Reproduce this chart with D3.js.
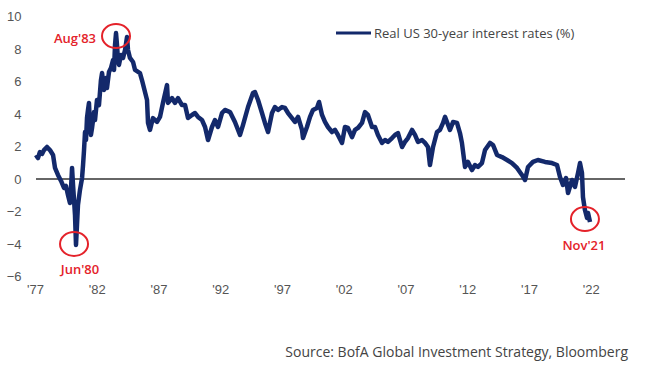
<!DOCTYPE html>
<html>
<head>
<meta charset="utf-8">
<script src="https://cdn.jsdelivr.net/npm/d3@7"></script>
<style>
  body { margin: 0; background: #fff; }
  svg { display: block; font-family: "Open Sans", sans-serif; }
  .axis text { fill: #555; font-size: 13px; }
  .axis path, .axis line { display: none; }
</style>
</head>
<body>
<script>
// Real US 30-year interest rates (%) (decimal years)
const dates = [
  1977.08, 1977.24, 1977.40, 1977.57, 1977.73, 1977.97, 1978.21, 1978.46, 1978.62, 1978.86,
  1979.11, 1979.35, 1979.51, 1979.67, 1979.83, 1979.91, 1980.00, 1980.08, 1980.16, 1980.24,
  1980.32, 1980.40, 1980.48, 1980.64, 1980.81, 1980.89, 1980.97, 1981.05, 1981.13, 1981.21,
  1981.29, 1981.37, 1981.45, 1981.53, 1981.62, 1981.78, 1981.86, 1982.02, 1982.18, 1982.34,
  1982.43, 1982.59, 1982.75, 1982.83, 1982.99, 1983.15, 1983.32, 1983.40, 1983.48, 1983.56,
  1983.64, 1983.72, 1983.80, 1983.96, 1984.13, 1984.29, 1984.45, 1984.53, 1984.69, 1984.94,
  1985.10, 1985.50, 1985.66, 1986.07, 1986.15, 1986.31, 1986.55, 1986.88, 1987.12, 1987.36,
  1987.69, 1987.77, 1988.09, 1988.34, 1988.58, 1988.90, 1989.15, 1989.39, 1989.71, 1989.96,
  1990.20, 1990.52, 1990.77, 1991.01, 1991.33, 1991.57, 1991.82, 1992.14, 1992.38, 1992.79,
  1993.19, 1993.60, 1993.84, 1994.25, 1994.65, 1994.81, 1995.06, 1995.38, 1995.62, 1995.87,
  1996.19, 1996.43, 1996.68, 1997.00, 1997.24, 1997.49, 1997.81, 1998.05, 1998.30, 1998.62,
  1998.70, 1999.02, 1999.27, 1999.51, 1999.83, 2000.00, 2000.24, 2000.48, 2000.72, 2001.05,
  2001.29, 2001.53, 2001.86, 2002.10, 2002.34, 2002.67, 2002.91, 2003.15, 2003.48, 2003.72,
  2003.96, 2004.29, 2004.53, 2004.77, 2005.10, 2005.34, 2005.58, 2005.91, 2006.15, 2006.39,
  2006.72, 2006.96, 2007.20, 2007.53, 2007.77, 2008.01, 2008.34, 2008.58, 2008.82, 2008.98,
  2009.23, 2009.55, 2009.79, 2010.04, 2010.20, 2010.36, 2010.60, 2010.85, 2011.17, 2011.41,
  2011.57, 2011.82, 2012.06, 2012.38, 2012.63, 2012.87, 2013.19, 2013.44, 2013.84, 2014.09,
  2014.41, 2014.81, 2015.22, 2015.62, 2016.03, 2016.43, 2016.68, 2016.92, 2017.32, 2017.72,
  2018.30, 2018.86, 2019.27, 2019.51, 2019.75, 2020.00, 2020.16, 2020.48, 2020.72, 2020.97,
  2021.13, 2021.29, 2021.37, 2021.53, 2021.70, 2021.78, 2021.94
];
const rates = [
  1.48, 1.29, 1.66, 1.54, 1.78, 1.97, 1.78, 1.48, 0.68, 0.25,
  -0.12, -0.55, -0.43, -0.98, -1.48, -0.68, 0.68, -0.37, -1.29, -2.22,
  -4.06, -2.83, -1.60, -0.68, 0.06, 0.86, 1.78, 2.89, 2.40, 3.75,
  4.25, 4.68, 3.32, 2.71, 3.14, 4.12, 3.63, 4.86, 4.55, 6.09,
  6.52, 5.48, 6.22, 5.60, 6.58, 6.83, 7.32, 6.71, 8.25, 8.98,
  8.25, 7.32, 7.02, 7.63, 7.45, 7.94, 8.74, 7.94, 7.45, 7.20,
  6.71, 6.52, 6.09, 4.86, 3.45, 3.02, 3.75, 3.51, 3.82, 4.68,
  5.78, 4.68, 4.98, 4.68, 4.98, 4.55, 4.55, 3.75, 3.94, 4.06,
  3.82, 3.63, 3.20, 2.40, 3.20, 3.63, 3.20, 4.06, 4.25, 4.12,
  3.51, 2.71, 3.32, 4.43, 5.29, 5.35, 4.86, 4.06, 3.45, 2.89,
  4.06, 4.43, 4.25, 4.43, 4.37, 4.06, 3.75, 3.51, 3.82, 3.02,
  2.52, 3.20, 3.82, 4.25, 4.37, 4.74, 3.94, 3.51, 3.20, 2.89,
  3.02, 2.71, 2.22, 3.20, 3.14, 2.58, 3.02, 3.14, 3.45, 4.12,
  3.94, 3.20, 3.20, 2.71, 2.22, 2.40, 2.28, 2.52, 2.71, 2.83,
  1.97, 2.28, 2.52, 3.02, 2.71, 2.28, 2.40, 2.22, 1.97, 0.86,
  1.97, 2.89, 3.02, 3.45, 3.82, 3.51, 3.02, 3.51, 3.45, 2.83,
  2.22, 0.74, 1.05, 0.55, 0.86, 0.74, 0.98, 1.78, 2.22, 2.09,
  1.48, 1.35, 1.17, 0.98, 0.68, 0.25, -0.06, 0.74, 1.05, 1.17,
  1.05, 0.98, 0.86, 0.12, -0.37, 0.06, -0.86, -0.06, -0.49, 0.37,
  0.98, 0.37, -1.11, -1.91, -2.40, -2.09, -2.65
];

const yTicks = [-6, -4, -2, 0, 2, 4, 6, 8, 10];
const xTicks = [1977, 1982, 1987, 1992, 1997, 2002, 2007, 2012, 2017, 2022];

// highlighted points
const noteLabels = ["Jun'80", "Aug'83", "Nov'21"];
const noteDates = [1980.16, 1983.56, 2021.53];
const noteValues = [-4.0, 8.8, -2.46];

const width = 645, height = 375;

const svg = d3.select("body").append("svg")
    .attr("width", width)
    .attr("height", height);

const x = d3.scaleLinear().domain([1977, 2022]).range([35, 590.75]);
const y = d3.scaleLinear().domain([-6, 10]).range([276.5, 16.5]);

// axes, labels only
svg.append("g")
    .attr("class", "axis")
    .attr("transform", "translate(0," + y(-6) + ")")
    .call(d3.axisBottom(x).tickValues(xTicks).tickSize(0).tickPadding(8.5)
        .tickFormat(d => "'" + String(d).slice(2)));

svg.append("g")
    .attr("class", "axis")
    .attr("transform", "translate(35,0)")
    .call(d3.axisLeft(y).tickValues(yTicks).tickSize(0).tickPadding(13.5));

// zero line
svg.append("line")
    .attr("x1", 36).attr("x2", 625)
    .attr("y1", y(0)).attr("y2", y(0))
    .attr("stroke", "#333")
    .attr("stroke-width", 1.3);

const series = dates.map((d, i) => ({ date: d, value: rates[i] }));

const line = d3.line()
    .x(d => x(d.date))
    .y(d => y(d.value));

svg.append("path")
    .datum(series)
    .attr("d", line)
    .attr("fill", "none")
    .attr("stroke", "#13296b")
    .attr("stroke-width", 4.5)
    .attr("stroke-linejoin", "round");

// red circles and labels
const red = "#e4222a";
const notes = noteLabels.map((l, i) => ({ label: l, date: noteDates[i], value: noteValues[i] }));

svg.selectAll(".note")
    .data(notes)
    .enter().append("ellipse")
    .attr("class", "note")
    .attr("cx", d => x(d.date))
    .attr("cy", d => y(d.value))
    .attr("rx", 14)
    .attr("ry", 12)
    .attr("fill", "none")
    .attr("stroke", red)
    .attr("stroke-width", 2);

const labelPos = [
  { dx: 6, dy: 30, anchor: "middle" },
  { dx: -20, dy: 7, anchor: "end" },
  { dx: -1, dy: 31, anchor: "middle" }
];

svg.selectAll(".note-label")
    .data(notes)
    .enter().append("text")
    .attr("class", "note-label")
    .attr("x", (d, i) => x(d.date) + labelPos[i].dx)
    .attr("y", (d, i) => y(d.value) + labelPos[i].dy)
    .attr("text-anchor", (d, i) => labelPos[i].anchor)
    .attr("fill", red)
    .attr("font-size", 13)
    .attr("font-weight", 600)
    .text(d => d.label);

// legend
svg.append("line")
    .attr("x1", 336).attr("x2", 371)
    .attr("y1", 33).attr("y2", 33)
    .attr("stroke", "#13296b")
    .attr("stroke-width", 3);

svg.append("text")
    .attr("x", 374).attr("y", 37.5)
    .attr("fill", "#444")
    .attr("font-size", 13)
    .text("Real US 30-year interest rates (%)");

// source
svg.append("text")
    .attr("x", 628).attr("y", 357)
    .attr("text-anchor", "end")
    .attr("fill", "#444")
    .attr("font-size", 14)
    .text("Source: BofA Global Investment Strategy, Bloomberg");
</script>
</body>
</html>
